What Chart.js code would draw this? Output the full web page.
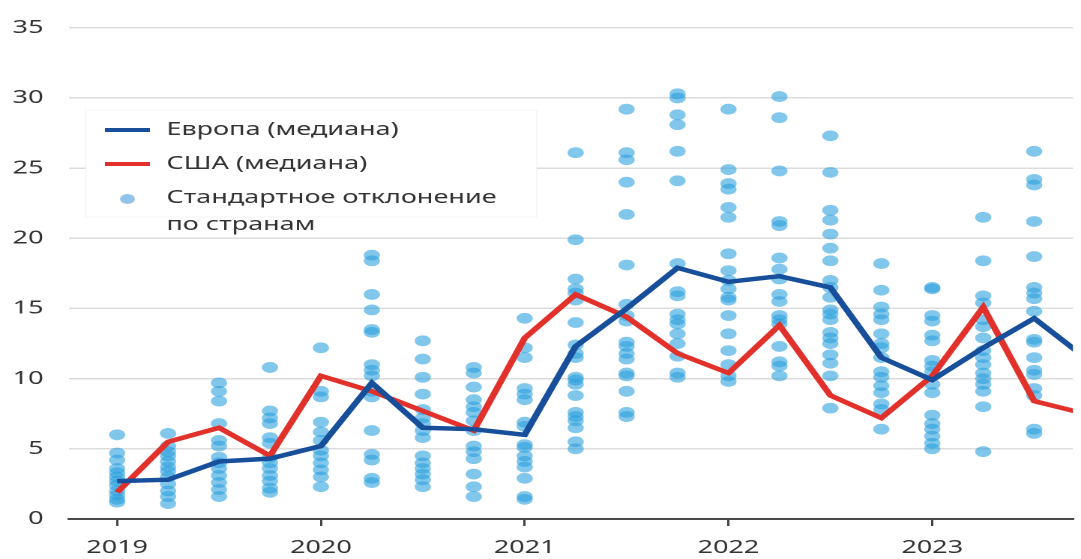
<!DOCTYPE html>
<html>
<head>
<meta charset="utf-8">
<script src="https://cdn.jsdelivr.net/npm/chart.js@4"></script>
<style>
  html, body { margin: 0; padding: 0; background: #fff; overflow: hidden; }
  /* the reference is stretched horizontally ~1.5x, so draw narrow and stretch */
  #wrap { width: 721px; height: 559px; transform: scaleX(1.4993); transform-origin: 0 0; }
</style>
</head>
<body>
<div id="wrap"><canvas id="chart"></canvas></div>
<script>
// quarters 2019 Q1 .. 2023 Q4
const quarters = [
    '2019 Q1', '2019 Q2', '2019 Q3', '2019 Q4',
    '2020 Q1', '2020 Q2', '2020 Q3', '2020 Q4',
    '2021 Q1', '2021 Q2', '2021 Q3', '2021 Q4',
    '2022 Q1', '2022 Q2', '2022 Q3', '2022 Q4',
    '2023 Q1', '2023 Q2', '2023 Q3', '2023 Q4'
];
const yearLabels = ['2019', '2020', '2021', '2022', '2023'];
const yearTickPos = [0, 4, 8, 12, 16];

const europeMedian = [2.7, 2.8, 4.1, 4.3, 5.2, 9.7, 6.5, 6.4, 6.0, 12.3, 15.0, 17.9, 16.9, 17.3, 16.5, 11.5, 9.9, 12.2, 14.3, 11.5];
const usaMedian = [1.9, 5.5, 6.5, 4.5, 10.2, 9.1, 7.7, 6.3, 12.9, 16.0, 14.4, 11.8, 10.4, 13.8, 8.8, 7.2, 10.2, 15.1, 8.4, 7.5];

// standard deviation by country, one list per quarter
const countrySd = [
    [6.0, 4.7, 4.2, 3.6, 3.3, 3.0, 2.7, 2.4, 2.0, 1.7, 1.4, 1.2],
    [6.1, 5.2, 4.8, 4.5, 4.1, 3.7, 3.4, 3.0, 2.5, 2.0, 1.6, 1.1],
    [9.7, 9.1, 8.4, 6.8, 5.6, 5.2, 4.4, 4.0, 3.6, 3.1, 2.6, 2.1, 1.6],
    [10.8, 7.7, 7.2, 6.8, 5.8, 5.4, 4.4, 4.0, 3.6, 3.1, 2.7, 2.2, 1.9],
    [12.2, 9.1, 8.7, 6.9, 6.2, 5.6, 4.9, 4.5, 4.0, 3.5, 3.0, 2.3],
    [18.8, 18.4, 16.0, 14.9, 13.5, 13.3, 11.0, 10.6, 10.2, 9.1, 8.7, 6.3, 4.6, 4.2, 2.9, 2.6],
    [12.7, 11.4, 10.1, 8.9, 7.8, 7.2, 6.8, 6.3, 5.8, 4.5, 4.0, 3.6, 3.2, 2.8, 2.3],
    [10.8, 10.4, 9.4, 8.5, 8.0, 7.6, 7.0, 6.3, 5.2, 4.8, 4.3, 3.2, 2.3, 1.6],
    [14.3, 12.2, 11.5, 9.3, 8.9, 8.5, 6.9, 6.6, 5.3, 5.1, 4.5, 4.1, 3.7, 2.9, 1.6, 1.4],
    [26.1, 19.9, 17.1, 16.4, 16.1, 15.6, 14.0, 12.4, 11.8, 11.5, 10.1, 9.9, 9.6, 8.8, 7.6, 7.3, 7.0, 6.5, 5.5, 5.0],
    [29.2, 26.1, 25.6, 24.0, 21.7, 18.1, 15.3, 14.5, 14.1, 12.6, 12.3, 11.8, 11.4, 10.4, 10.2, 9.1, 7.6, 7.3],
    [30.3, 30.0, 28.8, 28.1, 26.2, 24.1, 18.2, 16.2, 15.9, 14.6, 14.2, 13.9, 13.2, 12.5, 11.6, 10.4, 10.1],
    [29.2, 24.9, 23.9, 23.5, 22.2, 21.5, 18.9, 17.7, 17.0, 16.4, 15.8, 15.6, 14.5, 13.2, 12.0, 11.0, 10.2, 9.8],
    [30.1, 28.6, 24.8, 21.2, 20.9, 18.6, 17.8, 17.1, 16.0, 15.5, 14.5, 14.2, 13.9, 12.3, 11.2, 10.9, 10.2],
    [27.3, 24.7, 22.0, 21.3, 20.3, 19.3, 18.4, 17.0, 16.5, 15.8, 14.9, 14.6, 14.2, 13.3, 12.9, 12.5, 11.7, 11.1, 10.2, 7.9],
    [18.2, 16.3, 15.1, 14.6, 14.2, 13.2, 12.5, 12.2, 11.5, 10.5, 10.1, 9.5, 9.0, 8.2, 7.8, 6.4],
    [16.5, 16.4, 14.5, 14.1, 13.1, 12.7, 11.3, 10.9, 10.5, 9.6, 9.0, 7.4, 6.8, 6.4, 5.9, 5.4, 5.0],
    [21.5, 18.4, 15.9, 15.4, 14.2, 13.7, 12.9, 12.0, 11.5, 11.0, 10.4, 10.0, 9.6, 9.1, 8.0, 4.8],
    [26.2, 24.2, 23.8, 21.2, 18.7, 16.5, 16.1, 15.7, 14.8, 12.8, 12.6, 11.5, 10.6, 10.3, 9.3, 8.8, 6.4, 6.1]
];

const BLUE = '#174f9b';
const RED = '#e1312a';
const DOT = 'rgba(45, 160, 221, 0.6)';
const TEXT = '#333333';
const FONT = '"Noto Sans", "DejaVu Sans", sans-serif';

// Legend drawn inside the plot, on a white panel over the gridlines
const legendPanel = {
    id: 'legendPanel',
    beforeDatasetsDraw(chart) {
        const ctx = chart.ctx;
        ctx.save();
        ctx.fillStyle = '#ffffff';
        ctx.fillRect(57, 110, 301, 107);
        ctx.strokeStyle = 'rgba(0,0,0,0.04)';
        ctx.lineWidth = 1;
        ctx.strokeRect(57, 110, 301, 107);

        ctx.lineWidth = 4;
        ctx.strokeStyle = BLUE;
        ctx.beginPath(); ctx.moveTo(70, 130); ctx.lineTo(100, 130); ctx.stroke();
        ctx.strokeStyle = RED;
        ctx.beginPath(); ctx.moveTo(70, 164); ctx.lineTo(100, 164); ctx.stroke();
        ctx.fillStyle = 'rgba(120, 180, 228, 0.8)';
        ctx.beginPath(); ctx.arc(85, 199, 5, 0, Math.PI * 2); ctx.fill();

        ctx.fillStyle = TEXT;
        ctx.font = '18px ' + FONT;
        ctx.textBaseline = 'middle';
        ctx.textAlign = 'left';
        ctx.fillText('Европа (медиана)', 111, 130);
        ctx.fillText('США (медиана)', 111, 164);
        ctx.fillText('Стандартное отклонение', 111, 198);
        ctx.fillText('по странам', 111, 225);
        ctx.restore();
    }
};

function initChart() {
    const ctx = document.getElementById('chart').getContext('2d');
    new Chart(ctx, {
        type: 'scatter',
        data: {
            datasets: [
                {
                    label: 'Европа (медиана)',
                    data: europeMedian.map((v, i) => ({ x: i, y: v })),
                    showLine: true,
                    borderColor: BLUE,
                    borderWidth: 4.5,
                    pointRadius: 0,
                    tension: 0
                },
                {
                    label: 'США (медиана)',
                    data: usaMedian.map((v, i) => ({ x: i, y: v })),
                    showLine: true,
                    borderColor: RED,
                    borderWidth: 4.5,
                    pointRadius: 0,
                    tension: 0
                },
                {
                    label: 'Стандартное отклонение по странам',
                    data: countrySd.flatMap((vals, q) => vals.map(v => ({ x: q, y: v }))),
                    backgroundColor: DOT,
                    borderWidth: 0,
                    pointRadius: 5.4
                }
            ]
        },
        options: {
            responsive: true,
            maintainAspectRatio: false,
            devicePixelRatio: 2,
            animation: false,
            layout: { padding: { top: 24, right: 0, bottom: 0, left: 0 } },
            plugins: {
                legend: { display: false },
                tooltip: { enabled: false }
            },
            scales: {
                x: {
                    type: 'linear',
                    min: -0.945,
                    max: 18.76,
                    afterBuildTicks: (scale) => {
                        scale.ticks = yearTickPos.map(v => ({ value: v }));
                    },
                    afterFit: (scale) => { scale.height = 40; },
                    ticks: {
                        autoSkip: false,
                        maxRotation: 0,
                        padding: 11,
                        color: TEXT,
                        font: { family: FONT, size: 18 },
                        callback: (value) => yearLabels[yearTickPos.indexOf(value)]
                    },
                    grid: { drawOnChartArea: false, drawTicks: true, tickLength: 7, color: '#444', lineWidth: 1.5 },
                    border: { display: true, color: '#4a4a4a', width: 2 }
                },
                y: {
                    min: 0,
                    max: 35,
                    afterFit: (scale) => { scale.width = 46; },
                    ticks: {
                        stepSize: 5,
                        padding: 17,
                        color: TEXT,
                        font: { family: FONT, size: 18 }
                    },
                    grid: { color: '#dcdcdc', lineWidth: 1.5, drawTicks: false },
                    border: { display: false }
                }
            }
        },
        plugins: [legendPanel]
    });
}

document.addEventListener('DOMContentLoaded', initChart);
</script>
</body>
</html>
